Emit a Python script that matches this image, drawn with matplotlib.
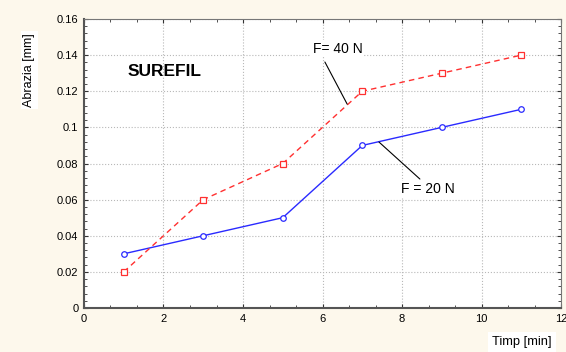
import matplotlib.pyplot as plt
from matplotlib.ticker import AutoMinorLocator, FormatStrFormatter, MultipleLocator

time_min = [1, 3, 5, 7, 9, 11]
wear_20n = [0.03, 0.04, 0.05, 0.09, 0.10, 0.11]
wear_40n = [0.02, 0.06, 0.08, 0.12, 0.13, 0.14]

BG = "#fdf8ec"


def label_with_leader(ax, text, text_xy, start, end):
    # text sits in a white box, the leader line is drawn on its own
    ax.text(*text_xy, text, fontsize=10, ha="center", va="center",
            bbox=dict(boxstyle="square,pad=0.1", fc="white", ec="none"))
    ax.annotate("", xy=end, xytext=start,
                arrowprops=dict(arrowstyle="-", color="black", lw=0.8,
                                shrinkA=0, shrinkB=0))


def main() -> None:
    plt.rcParams["font.family"] = ["Liberation Sans", "DejaVu Sans"]

    fig = plt.figure(figsize=(5.66, 3.52), dpi=100, facecolor=BG)
    ax = fig.add_axes([0.1484, 0.125, 0.8428, 0.821])

    ax.plot(time_min, wear_20n, color="#2a2aff", lw=1.0, marker="o",
            markersize=4, markerfacecolor="white", markeredgewidth=0.9)
    ax.plot(time_min, wear_40n, color="#ff3030", lw=1.0, ls=(0, (4, 3)),
            marker="s", markersize=4, markerfacecolor="white",
            markeredgewidth=0.9)

    ax.set_xlim(0, 12)
    ax.set_ylim(0, 0.16)
    ax.xaxis.set_major_locator(MultipleLocator(2))
    ax.xaxis.set_minor_locator(AutoMinorLocator(3))
    ax.yaxis.set_major_locator(MultipleLocator(0.02))
    ax.yaxis.set_minor_locator(MultipleLocator(0.004))
    ax.yaxis.set_major_formatter(FormatStrFormatter("%g"))
    ax.xaxis.set_major_formatter(FormatStrFormatter("%g"))
    ax.tick_params(which="both", direction="in", top=True, right=True,
                   labelsize=8, color="#333333")
    ax.tick_params(which="major", length=3, pad=4)
    ax.tick_params(which="minor", length=2)
    ax.grid(True, which="major", ls=":", color="#b8b8b8", lw=0.8)

    for side in ["left", "bottom"]:
        ax.spines[side].set_linewidth(1.5)
        ax.spines[side].set_color("#555555")
    for side in ["top", "right"]:
        ax.spines[side].set_linewidth(0.8)
        ax.spines[side].set_color("#777777")

    ax.text(1.1, 0.1307, "SUREFIL", fontsize=12.5, fontweight="bold",
            va="center", ha="left")

    label_with_leader(ax, "F= 40 N", (6.38, 0.1435),
                      (6.06, 0.1362), (6.62, 0.1129))
    label_with_leader(ax, "F = 20 N", (8.64, 0.0659),
                      (8.45, 0.0714), (7.42, 0.0919))

    fig.text(29 / 566, 1 - 70 / 352, "Abrazia [mm]", rotation=90,
             fontsize=9, ha="center", va="center",
             bbox=dict(boxstyle="square,pad=0.2", fc="white", ec="none"))
    fig.text(522 / 566, 1 - 342 / 352, "Timp [min]", fontsize=9.3,
             ha="center", va="center",
             bbox=dict(boxstyle="square,pad=0.3", fc="white", ec="none"))

    fig.savefig("out.png", dpi=100, facecolor=BG)


if __name__ == "__main__":
    main()
